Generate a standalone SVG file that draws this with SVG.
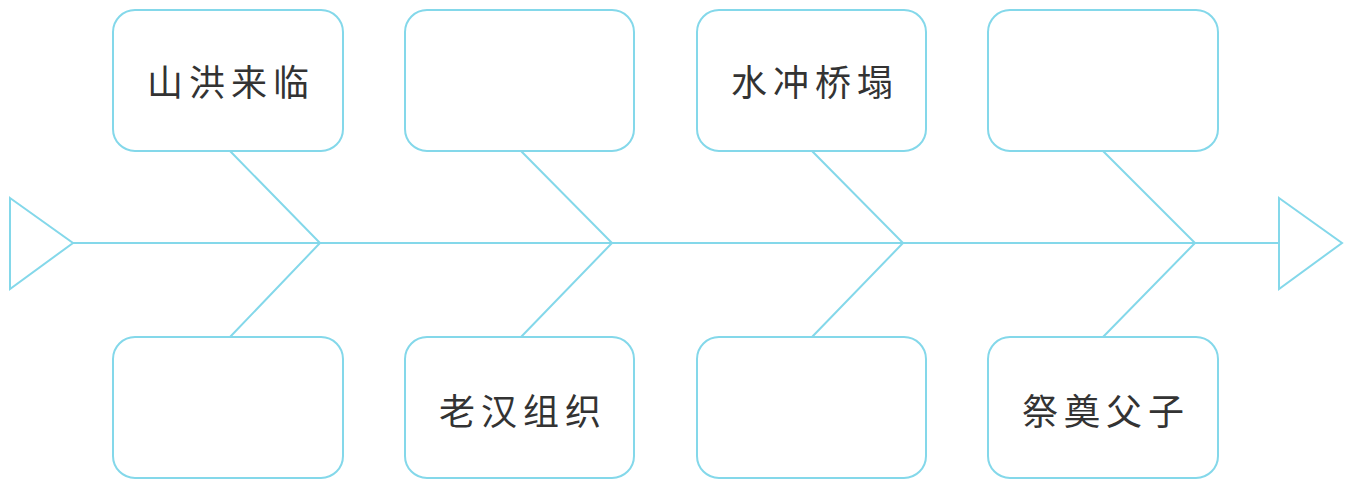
<svg xmlns="http://www.w3.org/2000/svg" width="1350" height="489" viewBox="0 0 1350 489">
<style>
.ln{fill:none;stroke:#84d8ea;stroke-width:2;stroke-linejoin:miter}
.bx{fill:#fff;stroke:#84d8ea;stroke-width:2}
.t{font-family:"Noto Sans CJK SC",sans-serif;font-size:36px;fill:#333;text-anchor:middle;letter-spacing:6px;dominant-baseline:central}
</style>
<rect width="1350" height="489" fill="#fff"/>
<g id="connectors">
<polygon class="ln" points="10,198 73,243 10,289"/>
<polygon class="ln" points="1279,198 1342,243 1279,289"/>
<line class="ln" x1="73" y1="243" x2="1279" y2="243"/>
<polyline class="ln" points="230,151 320,243 230,337"/>
<polyline class="ln" points="521,151 612,243 521,337"/>
<polyline class="ln" points="812,151 903,243 812,337"/>
<polyline class="ln" points="1103,151 1195,243 1103,337"/>
</g>
<g id="n1"><rect class="bx" x="113" y="10" width="230" height="141" rx="22"/><text class="t" x="231" y="80">山洪来临</text></g>
<g id="n2"><rect class="bx" x="405" y="10" width="229" height="141" rx="22"/></g>
<g id="n3"><rect class="bx" x="697" y="10" width="229" height="141" rx="22"/><text class="t" x="815" y="80">水冲桥塌</text></g>
<g id="n4"><rect class="bx" x="988" y="10" width="230" height="141" rx="22"/></g>
<g id="n5"><rect class="bx" x="113" y="337" width="230" height="141" rx="22"/></g>
<g id="n6"><rect class="bx" x="405" y="337" width="229" height="141" rx="22"/><text class="t" x="523" y="409">老汉组织</text></g>
<g id="n7"><rect class="bx" x="697" y="337" width="229" height="141" rx="22"/></g>
<g id="n8"><rect class="bx" x="988" y="337" width="230" height="141" rx="22"/><text class="t" x="1106" y="409">祭奠父子</text></g>
</svg>
